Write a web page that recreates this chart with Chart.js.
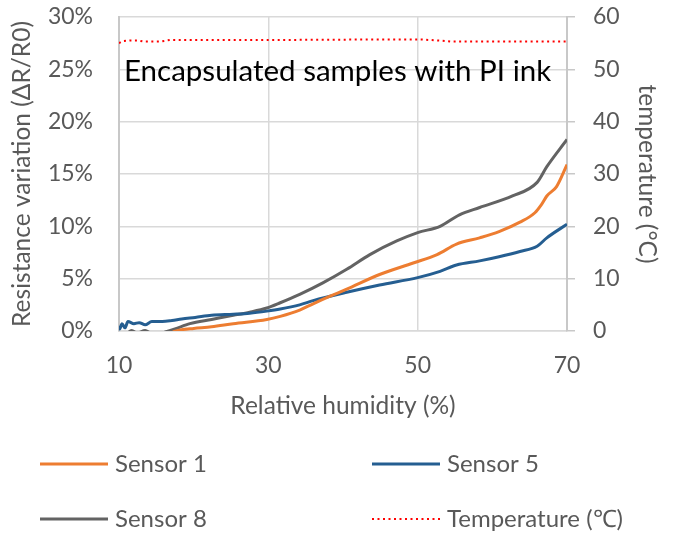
<!DOCTYPE html>
<html>
<head>
<meta charset="utf-8">
<script src="https://cdn.jsdelivr.net/npm/chart.js@4.4.0/dist/chart.umd.min.js"></script>
<style>
  html, body { margin: 0; padding: 0; background: #fff; }
  #wrap { width: 673px; height: 536px; }
</style>
</head>
<body>
<div id="wrap"><canvas id="humChart" width="673" height="536"></canvas></div>
<script>
// --- data: relative humidity (%) vs resistance change (%) ---
const rhS1 = [17.2, 18.2, 20, 22.4, 25.3, 29.8, 31.6, 34.2, 36, 38.2, 40.5, 44.9, 49.4, 52.6, 55.2, 58.3, 60.9, 63.7, 65.7, 66.6, 67.3, 68.6, 70];
const sensor1 = [-0.1, 0.1, 0.25, 0.4, 0.7, 1.1, 1.4, 2.0, 2.6, 3.3, 4.0, 5.4, 6.5, 7.3, 8.3, 8.9, 9.5, 10.4, 11.3, 12.1, 12.9, 13.8, 15.9];

const rhS5 = [10, 10.1, 10.4, 10.8, 11.2, 12.0, 12.7, 13.5, 14.4, 15.8, 17.1, 18.4, 20.2, 22.4, 25.3, 27.5, 29.8, 31.6, 34.2, 36, 40.5, 44.9, 50, 53, 55.2, 58.3, 60.9, 63.7, 66, 67.3, 70];
const sensor5 = [0.5, 0.2, 0.7, 0.3, 0.9, 0.7, 0.8, 0.6, 0.9, 0.9, 1.0, 1.15, 1.3, 1.5, 1.6, 1.7, 1.9, 2.1, 2.5, 2.9, 3.7, 4.4, 5.1, 5.7, 6.3, 6.7, 7.1, 7.6, 8.1, 8.9, 10.2];

const rhS8 = [11.0, 11.7, 12.4, 13.5, 14.2, 14.8, 16.2, 17.5, 19.5, 22.4, 25.3, 27.5, 29.8, 31.6, 34.2, 37.3, 40.5, 43.6, 47.2, 50, 53, 55.6, 58.3, 62.7, 66, 67.3, 70];
const sensor8 = [-0.3, 0.05, -0.2, 0.05, -0.2, -0.4, -0.1, 0.2, 0.7, 1.1, 1.5, 1.8, 2.2, 2.7, 3.5, 4.6, 5.9, 7.3, 8.6, 9.4, 10.0, 11.1, 11.8, 12.9, 14.2, 15.7, 18.3];

// chamber temperature (°C), right axis
const rhT = [10, 10.5, 11.5, 12.6, 13.3, 15.5, 16.8, 30, 44, 50.5, 53, 54.5, 70];
const tempC = [55.0, 55.4, 55.5, 55.5, 55.3, 55.3, 55.6, 55.6, 55.7, 55.7, 55.5, 55.3, 55.3];

const xTicks = [10, 30, 50, 70];
const panelTitle = 'Encapsulated samples with PI ink';

const FONT = 'Lato';
const TXT = '#595959';
const GRID = '#d9d9d9';

function pts(xs, ys) {
    return xs.map((x, i) => ({ x: x, y: ys[i] }));
}

// title written inside the plot area
const insideTitle = {
    id: 'insideTitle',
    afterDatasetsDraw(chart) {
        const { ctx, chartArea } = chart;
        ctx.save();
        ctx.font = '29.5px ' + FONT;
        ctx.fillStyle = '#000';
        ctx.textBaseline = 'alphabetic';
        ctx.fillText(panelTitle, chartArea.left + 5, chartArea.top + 64);
        ctx.restore();
    }
};

// 2 x 2 legend under the x axis title
const gridLegend = {
    id: 'gridLegend',
    afterDraw(chart) {
        const { ctx } = chart;
        const cols = [40, 372];
        const rows = [464, 519];
        chart.data.datasets.forEach((ds, i) => {
            const x = cols[i % 2];
            const y = rows[Math.floor(i / 2)];
            ctx.save();
            ctx.strokeStyle = ds.borderColor;
            ctx.lineWidth = ds.borderWidth;
            ctx.setLineDash(ds.borderDash || []);
            ctx.beginPath();
            ctx.moveTo(x, y);
            ctx.lineTo(x + 68, y);
            ctx.stroke();
            ctx.setLineDash([]);
            ctx.fillStyle = TXT;
            ctx.font = '24px ' + FONT;
            ctx.textBaseline = 'middle';
            ctx.fillText(ds.label, x + 75, y);
            ctx.restore();
        });
    }
};

// keep the plot box fixed: no extra room for half-height labels
function noEdgePad(scale) {
    scale.paddingTop = 0;
    scale.paddingBottom = 0;
    scale.paddingLeft = 0;
    scale.paddingRight = 0;
}

const chart = new Chart(document.getElementById('humChart'), {
    type: 'line',
    data: {
        datasets: [
            {
                label: 'Sensor 1',
                data: pts(rhS1, sensor1),
                borderColor: '#ED7D31',
                borderWidth: 3,
                cubicInterpolationMode: 'monotone',
                yAxisID: 'y'
            },
            {
                label: 'Sensor 5',
                data: pts(rhS5, sensor5),
                borderColor: '#255E91',
                borderWidth: 3,
                cubicInterpolationMode: 'monotone',
                yAxisID: 'y'
            },
            {
                label: 'Sensor 8',
                data: pts(rhS8, sensor8),
                borderColor: '#636363',
                borderWidth: 3,
                cubicInterpolationMode: 'monotone',
                yAxisID: 'y'
            },
            {
                label: 'Temperature (\u2103)',
                data: pts(rhT, tempC),
                borderColor: '#FF0000',
                borderWidth: 2,
                borderDash: [2, 3.5],
                tension: 0,
                yAxisID: 'yT'
            }
        ]
    },
    options: {
        responsive: false,
        animation: false,
        layout: { padding: { top: 17, bottom: 115, left: 0, right: 0 } },
        elements: { point: { radius: 0 } },
        plugins: {
            legend: { display: false },
            tooltip: { enabled: false }
        },
        scales: {
            x: {
                type: 'linear',
                min: 10,
                max: 70,
                afterBuildTicks(scale) {
                    scale.ticks = xTicks.map(v => ({ value: v }));
                },
                ticks: { color: TXT, font: { family: FONT, size: 23 }, padding: 21, maxRotation: 0 },
                grid: { color: GRID, lineWidth: 1.5, drawTicks: false },
                border: { color: GRID, width: 1.5 },
                title: {
                    display: true,
                    text: 'Relative humidity (%)',
                    color: TXT,
                    font: { family: FONT, size: 24.5 },
                    padding: { top: 0, bottom: 0 }
                },
                afterFit(scale) { noEdgePad(scale); scale.height = 90; }
            },
            y: {
                position: 'left',
                min: 0,
                max: 30,
                ticks: {
                    stepSize: 5,
                    color: TXT,
                    font: { family: FONT, size: 23 },
                    padding: 26,
                    callback: v => v + '%'
                },
                grid: { color: GRID, lineWidth: 1.5, drawTicks: false },
                border: { color: '#c8c8c8', width: 2 },
                title: {
                    display: true,
                    text: 'Resistance variation (\u0394R/R0)',
                    color: TXT,
                    font: { family: FONT, size: 24.5 },
                    padding: { top: 7, bottom: 0 }
                },
                afterFit(scale) { noEdgePad(scale); scale.width = 119; }
            },
            yT: {
                position: 'right',
                min: 0,
                max: 60,
                ticks: { stepSize: 10, color: TXT, font: { family: FONT, size: 23 }, padding: 18 },
                grid: { drawOnChartArea: false, color: '#c8c8c8', lineWidth: 1.5, tickLength: 8 },
                border: { color: '#c8c8c8', width: 2 },
                title: {
                    display: true,
                    text: 'temperature (\u00B0C)',
                    color: TXT,
                    font: { family: FONT, size: 24.5 },
                    padding: { top: 11, bottom: 0 }
                },
                afterFit(scale) { noEdgePad(scale); scale.width = 106; }
            }
        }
    },
    plugins: [insideTitle, gridLegend]
});
</script>
</body>
</html>
